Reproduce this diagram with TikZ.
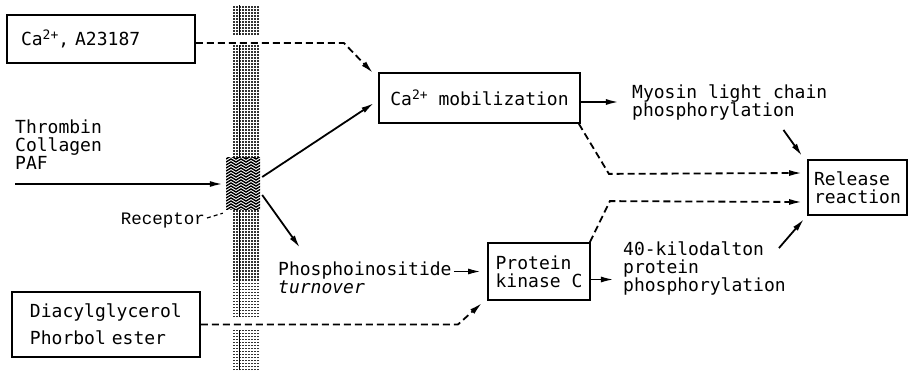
\documentclass[tikz,border=0pt]{standalone}
\usepackage{fontspec}
\setmainfont{DejaVu Sans Mono}
\newfontfamily\courierfont{Liberation Mono}
\usetikzlibrary{arrows.meta, positioning}
\newcommand{\ionsup}[1]{\raisebox{6.5pt}{\fontsize{13}{13}\selectfont #1}}

\begin{document}
\begin{tikzpicture}[
  x=1pt, y=1pt,
  font=\fontsize{18}{18}\selectfont,
  box/.style={draw, line width=1.8pt, inner sep=6pt},
  txt/.style={inner sep=2pt, align=left},
  arrow/.style={-{Latex[length=13pt,width=6pt]}, line width=1.8pt},
  dasharrow/.style={arrow, dash pattern=on 7pt off 4pt},
  membrane/.style={line width=1.5pt, dash pattern=on 1.5pt off 1.5pt, black!80},
  receptor/.style={fill=white, minimum width=34pt, minimum height=52pt, inner sep=0pt,
    path picture={\foreach \k in {-1,...,18}
      \draw[line width=1.4pt] ([yshift={3*\k}]path picture bounding box.south west)
        -- ++(5,3) -- ++(5,-3) -- ++(5,3) -- ++(5,-3) -- ++(5,3) -- ++(5,-3) -- ++(5,3);}}
]
\useasboundingbox (0,0) rectangle (911,370);

% membrane
\foreach \mx in {234,237,...,258}
  \draw[membrane] (\mx,0) -- (\mx,40) (\mx,53) -- (\mx,325) (\mx,335) -- (\mx,365);
\draw[line width=1pt] (239,0) -- (239,40) (239,53) -- (239,325) (239,335) -- (239,365);
\node[receptor] (rec) at (243,186) {};

% nodes
\node[box, text width=160pt, minimum height=48pt, inner xsep=14pt] (caion) at (101,331) {Ca\ionsup{2+}, A23187};
\node[box, minimum width=201pt, minimum height=50pt] (camob) at (479.5,272) {Ca\ionsup{2+} mobilization};
\node[txt, anchor=west] (myosin) at (630,268) {Myosin light chain\\phosphorylation};
\node[box, align=left, minimum width=99pt, minimum height=55pt, inner xsep=5pt] (release) at (857.5,182.5) {Release\\reaction};
\node[txt, anchor=west] (agonists) at (13,225) {Thrombin\\Collagen\\PAF};
\coordinate (agonin) at (15,186);
\node[txt, anchor=east, font=\courierfont\fontsize{17.5}{18}\selectfont] (reclabel) at (207,150) {Receptor};
\node[txt, anchor=west] (phospho) at (276,92) {Phosphoinositide\\\textit{turnover}};
\node[box, align=left, minimum width=102pt, minimum height=57pt] (pkc) at (539,98.5) {Protein\\kinase C};
\node[txt, anchor=west] (kd) at (621,102) {40-kilodalton\\protein\\phosphorylation};
\node[box, text width=152pt, minimum height=65pt, inner xsep=18pt, align=left] (diacyl) at (106,45.5) {Diacylglycerol\\[9pt]Phorbol ester};

% connectors
\draw[dasharrow] ([yshift=-4pt]caion.east) -- ++(148,0) -- ([xshift=-5pt,yshift=-1pt]camob.north west);
\draw[arrow] (agonin) -- ([xshift=-3pt]rec.west);
\draw[line width=1.2pt, dash pattern=on 4pt off 3pt] ([yshift=2pt]reclabel.east) -- ([xshift=-3pt,yshift=-3pt]rec.south west);
\draw[arrow] ([xshift=2pt,yshift=7pt]rec.east) -- ([xshift=-4pt,yshift=-5pt]camob.west);
\draw[arrow] ([xshift=2pt,yshift=-11pt]rec.east) -- ([xshift=24pt,yshift=12pt]phospho.north west);
\draw[arrow] (phospho.east |- pkc.west) -- ([xshift=-6pt]pkc.west);
\draw[arrow] ([yshift=-8pt]pkc.east) -- ++(23,0);
\draw[arrow] ([yshift=-4pt]camob.east) -- ++(38,0);
\draw[arrow] ([xshift=-46pt,yshift=-8pt]myosin.south east) -- ([xshift=-5pt,yshift=3pt]release.north west);
\draw[dasharrow] ([xshift=-2pt]camob.south east) -- ++(30,-50) -- ([xshift=-5pt,yshift=14.5pt]release.west);
\draw[dasharrow] ([xshift=-1pt]pkc.north east) -- ++(20,41) -- ([xshift=-5pt,yshift=-14.5pt]release.west);
\draw[arrow] ([xshift=-9pt,yshift=-9pt]kd.north east) -- ([xshift=-3pt,yshift=-3pt]release.south west);
\draw[dasharrow] (diacyl.east) -- ++(257,0) -- ([xshift=-5pt,yshift=-2pt]pkc.south west);
\end{tikzpicture}
\end{document}
